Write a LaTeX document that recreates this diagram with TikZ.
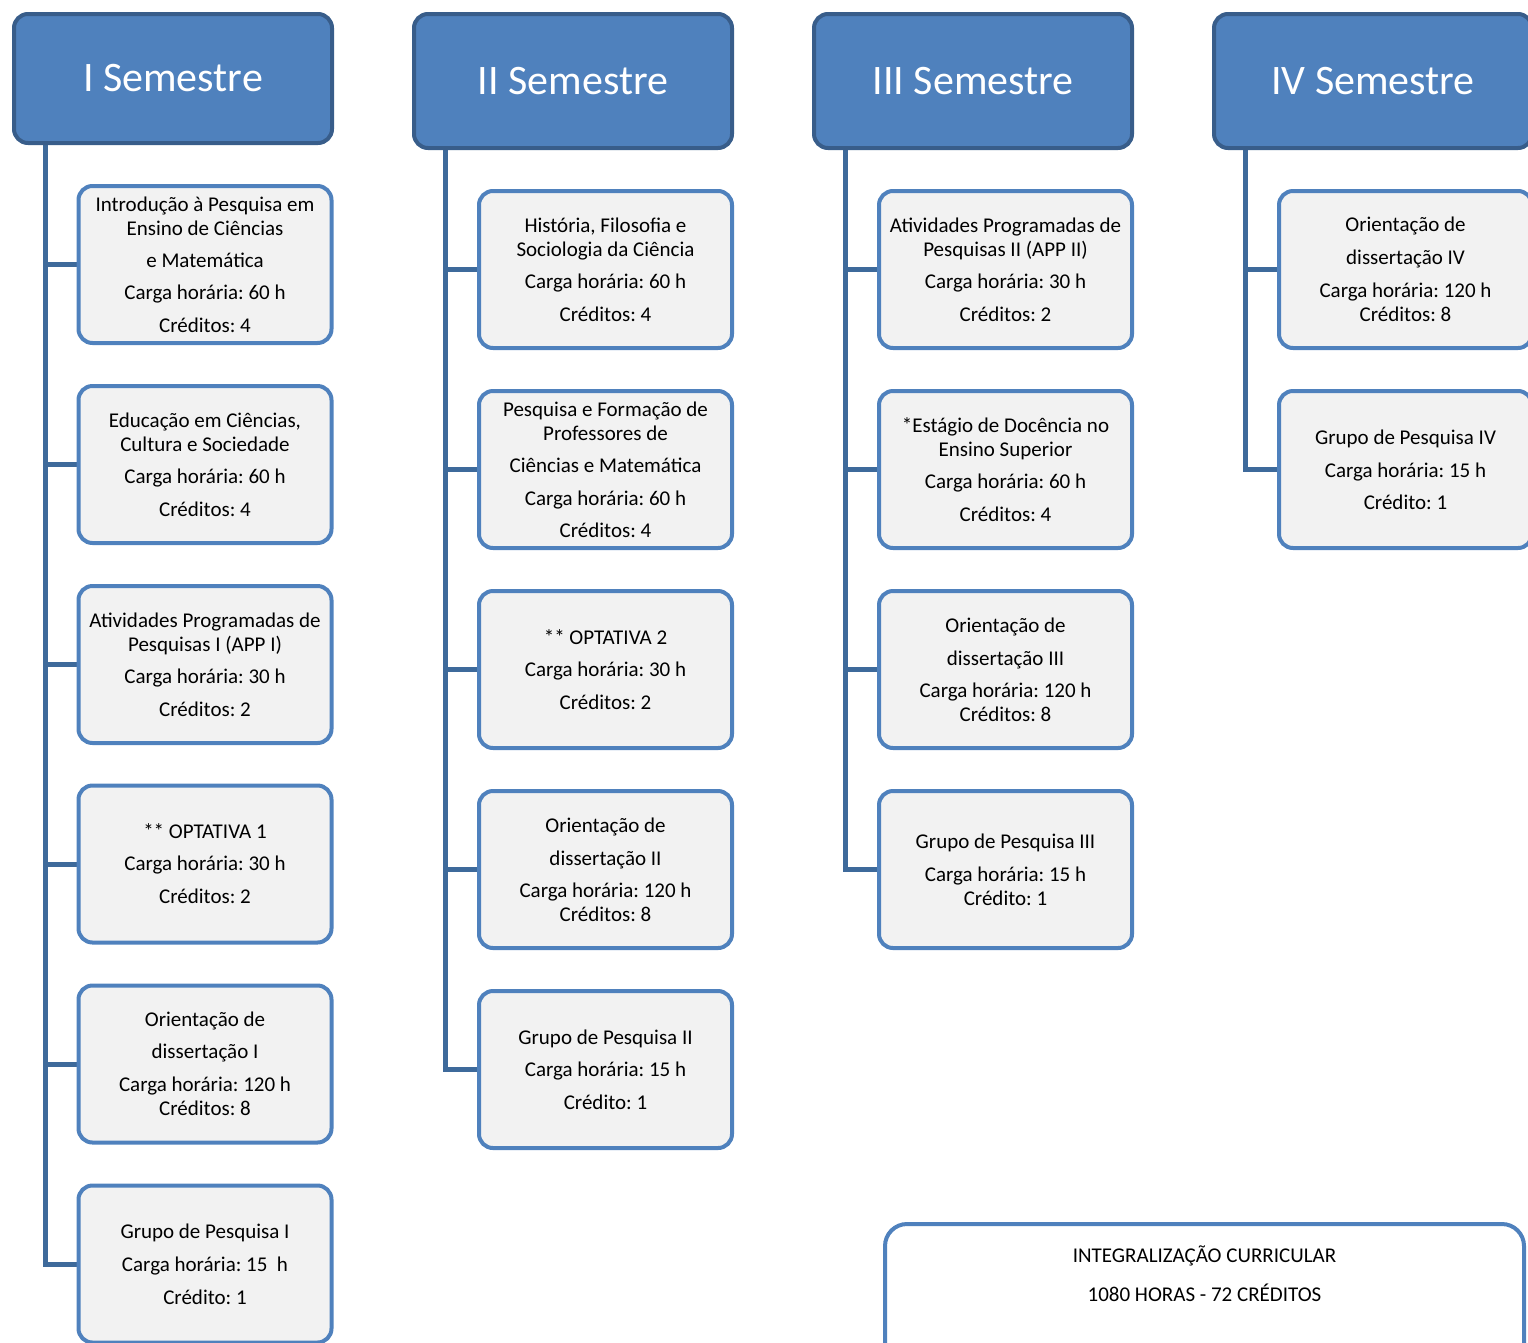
\documentclass[tikz,border=0pt]{standalone}
\usepackage{fontspec}
\setmainfont{Carlito}
\frenchspacing
\usetikzlibrary{backgrounds}
\definecolor{hdrfill}{HTML}{4F81BD}
\definecolor{hdrdraw}{HTML}{385D8A}
\definecolor{boxfill}{HTML}{F2F2F2}
\definecolor{boxdraw}{HTML}{4F81BD}
\definecolor{conncol}{HTML}{3E6A9B}
\tikzset{
  hdr/.style={draw=hdrdraw, fill=hdrfill, line width=4pt, rounded corners=14pt,
    minimum width=318pt, text=white, font=\fontsize{42}{50}\selectfont, inner sep=0pt},
  sub/.style={draw=boxdraw, fill=boxfill, line width=4pt, rounded corners=14pt,
    minimum width=253pt, minimum height=157pt, align=center,
    font=\fontsize{21}{24}\selectfont\frenchspacing, inner sep=0pt},
  total/.style={draw=boxdraw, fill=white, line width=4pt, rounded corners=22pt,
    minimum width=639pt, minimum height=200pt},
  totaltext/.style={align=center, font=\fontsize{21}{24}\selectfont, inner sep=0pt},
  conn/.style={draw=conncol, line width=5pt},
}
\begin{document}
\begin{tikzpicture}[x=1pt,y=-1pt]
\useasboundingbox (0,0) rectangle (1528,1342);
\clip (0,0) rectangle (1528,1342);
% headers
\node[hdr, minimum height=129pt] (h1) at (173,78.5) {I Semestre};
\node[hdr, minimum height=134pt] (h2) at (573,81) {II Semestre};
\node[hdr, minimum height=134pt] (h3) at (973,81) {III Semestre};
\node[hdr, minimum height=134pt] (h4) at (1373,81) {IV Semestre};
% column 1
\node[sub] (a1) at (205,264.5) {Introdução à Pesquisa em\\Ensino de Ciências\\[8pt]e Matemática\\[8pt]Carga horária: 60 h\\[9pt]Créditos: 4};
\node[sub] (a2) at (205,464.5) {Educação em Ciências,\\Cultura e Sociedade\\[8pt]Carga horária: 60 h\\[9pt]Créditos: 4};
\node[sub] (a3) at (205,664.5) {Atividades Programadas de\\Pesquisas I (APP I)\\[8pt]Carga horária: 30 h\\[9pt]Créditos: 2};
\node[sub] (a4) at (205,864) {** OPTATIVA 1\\[8pt]Carga horária: 30 h\\[9pt]Créditos: 2};
\node[sub] (a5) at (205,1064) {Orientação de\\[8pt]dissertação I\\[9pt]Carga horária: 120 h\\Créditos: 8};
\node[sub] (a6) at (205,1264) {Grupo de Pesquisa I\\[9pt]Carga horária: 15\ \ h\\[9pt]Crédito: 1};
% column 2
\node[sub] (b1) at (605.5,269.5) {História, Filosofia e\\Sociologia da Ciência\\[8pt]Carga horária: 60 h\\[9pt]Créditos: 4};
\node[sub] (b2) at (605.5,469.5) {Pesquisa e Formação de\\Professores de\\[8pt]Ciências e Matemática\\[9pt]Carga horária: 60 h\\[8pt]Créditos: 4};
\node[sub] (b3) at (605.5,669.5) {** OPTATIVA 2\\[8pt]Carga horária: 30 h\\[9pt]Créditos: 2};
\node[sub] (b4) at (605.5,869.5) {Orientação de\\[9pt]dissertação II\\[8pt]Carga horária: 120 h\\Créditos: 8};
\node[sub] (b5) at (605.5,1069.5) {Grupo de Pesquisa II\\[8pt]Carga horária: 15 h\\[9pt]Crédito: 1};
% column 3
\node[sub] (c1) at (1005.5,269.5) {Atividades Programadas de\\Pesquisas II (APP II)\\[8pt]Carga horária: 30 h\\[9pt]Créditos: 2};
\node[sub] (c2) at (1005.5,469.5) {*Estágio de Docência no\\Ensino Superior\\[8pt]Carga horária: 60 h\\[9pt]Créditos: 4};
\node[sub] (c3) at (1005.5,669.5) {Orientação de\\[9pt]dissertação III\\[8pt]Carga horária: 120 h\\Créditos: 8};
\node[sub] (c4) at (1005.5,869.5) {Grupo de Pesquisa III\\[9pt]Carga horária: 15 h\\Crédito: 1};
% column 4
\node[sub] (d1) at (1405.5,269.5) {Orientação de\\[9pt]dissertação IV\\[9pt]Carga horária: 120 h\\Créditos: 8};
\node[sub] (d2) at (1405.5,469.5) {Grupo de Pesquisa IV\\[9pt]Carga horária: 15 h\\[8pt]Crédito: 1};
% total box
\node[total] (tot) at (1204.5,1324) {};
\node[totaltext] (totx) at (1204.5,1273.5) {INTEGRALIZAÇÃO CURRICULAR\\[15pt]1080 HORAS - 72 CRÉDITOS};
% connectors
\coordinate (v1) at (45,140);
\coordinate (v2) at (445,145);
\coordinate (v3) at (845,145);
\coordinate (v4) at (1245,145);
\begin{scope}[on background layer]
\foreach \n in {a1,a2,a3,a4,a5,a6} \draw[conn] (v1) |- (\n.west);
\foreach \n in {b1,b2,b3,b4,b5} \draw[conn] (v2) |- (\n.west);
\foreach \n in {c1,c2,c3,c4} \draw[conn] (v3) |- (\n.west);
\foreach \n in {d1,d2} \draw[conn] (v4) |- (\n.west);
\end{scope}
\end{tikzpicture}
\end{document}
